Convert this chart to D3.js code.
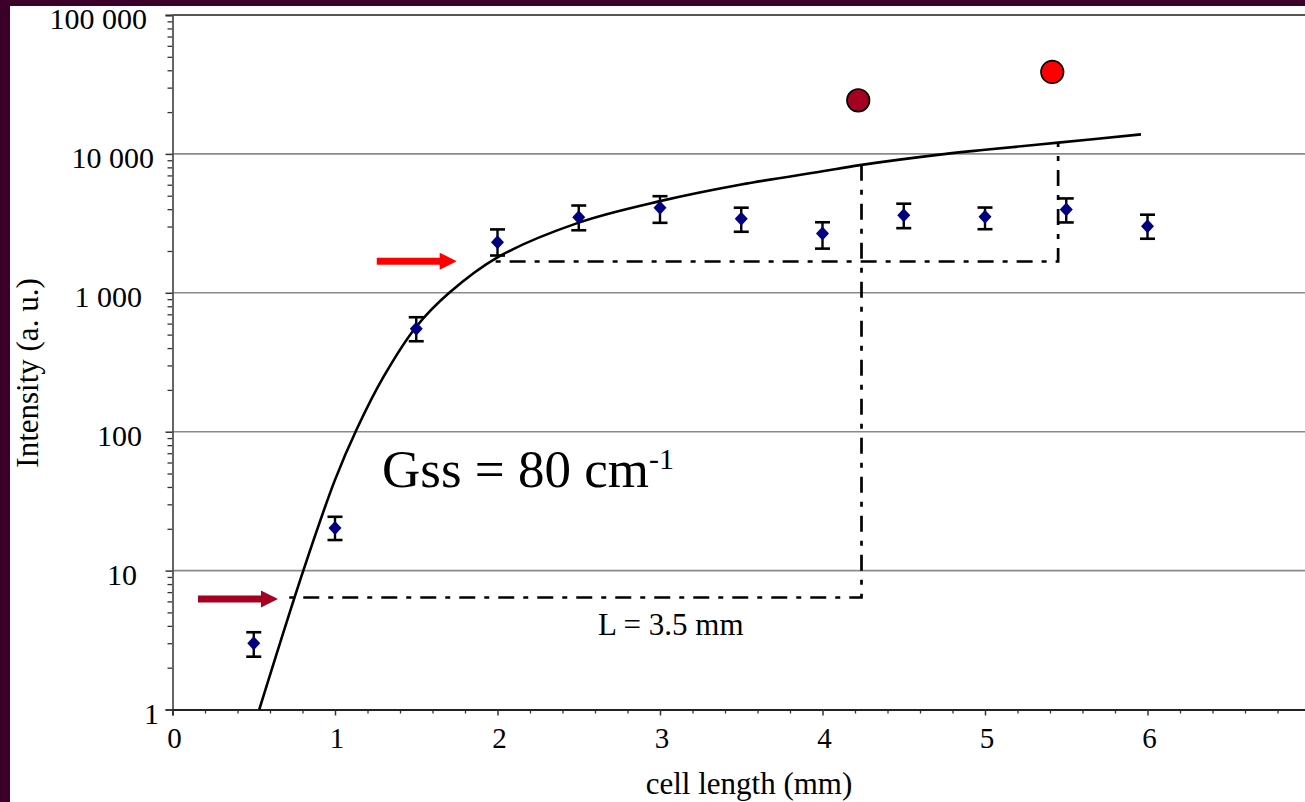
<!DOCTYPE html>
<html>
<head>
<meta charset="utf-8">
<script src="https://cdn.jsdelivr.net/npm/d3@7"></script>
<style>
  html, body { margin: 0; padding: 0; background: #3a0029; }
  svg { display: block; }
  text { font-family: "Liberation Serif", "Times New Roman", serif; fill: #000; }
</style>
</head>
<body>
<div id="chart"></div>
<script>
// measured points (cell length in mm, intensity in a.u.)
var cellLength = [0.5, 1, 1.5, 2, 2.5, 3, 3.5, 4, 4.5, 5, 5.5, 6];
var intensity  = [3.0, 20.3, 550, 2310, 3500, 4100, 3410, 2670, 3620, 3530, 3980, 3020];
var errHigh    = [3.6, 24.4, 667, 2860, 4250, 4960, 4100, 3220, 4380, 4110, 4780, 3650];
var errLow     = [2.4, 16.6, 448, 1855, 2820, 3190, 2750, 2080, 2920, 2870, 3210, 2450];

// fitted gain curve
var fitLength    = [0.534, 0.805, 1.0, 1.135, 1.3, 1.5, 1.703, 2.0, 2.5, 3.0, 3.5, 4.0, 4.23, 4.76, 5.0, 5.45, 5.96];
var fitIntensity = [1, 10, 45, 105, 250, 570, 1000, 1800, 3200, 4570, 6020, 7500, 8300, 10000, 10700, 12050, 13830];

// the two big markers
var markerLength    = [4.22, 5.414];
var markerIntensity = [24300, 38900];
var markerColor     = ["#a30022", "#ff0000"];

// dashed guides: start length, level, end length, top of the vertical
var guideStart = [0.70, 1.97];
var guideLevel = [6.4, 1680];
var guideEnd   = [4.24, 5.45];
var guideTop   = [8300, 12100];

// arrows pointing at the guide levels
var arrowFrom  = [0.157, 1.257];
var arrowTo    = [0.649, 1.749];
var arrowLevel = [6.25, 1690];
var arrowColor = ["#a30022", "#ff0000"];

var xTicks = [0, 1, 2, 3, 4, 5, 6, 7];
var yTicks = [1, 10, 100, 1000, 10000, 100000];
var yTickLabels = ["1", "10", "100", "1 000", "10 000", "100 000"];

var width = 1305, height = 802;
var plotLeft = 172.5, plotTop = 15, plotBottom = 709.5;

var svg = d3.select("#chart").append("svg")
   .attr("width", width).attr("height", height);

// dark frame + white page
svg.append("rect").attr("width", width).attr("height", height).attr("fill", "#3a0029");
svg.append("rect").attr("x", 10).attr("y", 6).attr("width", width - 10).attr("height", height - 6).attr("fill", "#fff");

var x = d3.scaleLinear().domain([0, 7]).range([plotLeft, plotLeft + 7 * 162.5]);
var y = d3.scaleLog().domain([1, 100000]).range([plotBottom, plotTop]);

// horizontal grid at every decade
svg.append("g").selectAll("line").data(yTicks.slice(1)).enter().append("line")
   .attr("x1", plotLeft).attr("x2", width)
   .attr("y1", function(d){ return y(d); }).attr("y2", function(d){ return y(d); })
   .attr("stroke", function(d){ return d == 100000 ? "#555" : "#8a8a8a"; })
   .attr("stroke-width", function(d){ return d == 100000 ? 2.2 : 1.6; });

// minor ticks
var yMinor = [];
yTicks.slice(0, -1).forEach(function(t){ for (var k = 2; k < 10; k++) yMinor.push(t * k); });
svg.append("g").attr("transform", "translate(" + plotLeft + ",0)")
   .call(d3.axisLeft(y).tickValues(yMinor).tickSize(5).tickFormat(""))
   .call(function(g){ g.select(".domain").remove(); g.selectAll("line").attr("stroke", "#333").attr("stroke-width", 1.3); });
var xMinor = d3.range(0, 35).map(function(i){ return i / 5; }).filter(function(v){ return Math.abs(v - Math.round(v)) > 1e-6; });
svg.append("g").attr("transform", "translate(0," + plotBottom + ")")
   .call(d3.axisBottom(x).tickValues(xMinor).tickSize(4).tickFormat(""))
   .call(function(g){ g.select(".domain").remove(); g.selectAll("line").attr("stroke", "#333").attr("stroke-width", 1.3); });

// major ticks + labels
var yLabelRight = [159, 137, 142, 142, 154, 147];
var yAxis = svg.append("g").attr("transform", "translate(" + plotLeft + ",0)")
   .call(d3.axisLeft(y).tickValues(yTicks).tickSize(7).tickFormat(function(d, i){ return yTickLabels[i]; }));
yAxis.select(".domain").attr("stroke", "#555").attr("stroke-width", 1.8);
yAxis.selectAll("line").attr("stroke", "#333").attr("stroke-width", 1.5);
yAxis.selectAll("text")
   .attr("x", function(d, i){ return yLabelRight[i] - plotLeft; })
   .attr("dy", "0.45em")
   .style("font-family", "'Liberation Serif', serif").style("font-size", "30px").attr("fill", "#000");

var xAxis = svg.append("g").attr("transform", "translate(0," + plotBottom + ")")
   .call(d3.axisBottom(x).tickValues(xTicks).tickSize(6).tickFormat(d3.format("d")));
xAxis.select(".domain").attr("stroke", "#222").attr("stroke-width", 1.8);
xAxis.selectAll("line").attr("stroke", "#333").attr("stroke-width", 1.5);
xAxis.selectAll("text")
   .attr("y", 0).attr("dy", "38.5px").attr("dx", "1.5px")
   .style("font-family", "'Liberation Serif', serif").style("font-size", "29px").attr("fill", "#000");

// axis titles
svg.append("text")
   .attr("x", 749).attr("y", 794)
   .attr("text-anchor", "middle")
   .style("font-size", "31px")
   .text("cell length (mm)");
svg.append("text")
   .attr("transform", "translate(38,373) rotate(-90)")
   .attr("text-anchor", "middle")
   .style("font-size", "31px")
   .text("Intensity (a. u.)");

// dashed guide lines
var dash = "16,9,5,9";
guideStart.forEach(function(s, i){
   svg.append("path")
      .attr("d", "M" + x(s) + "," + y(guideLevel[i]) + "H" + x(guideEnd[i]) + "V" + y(guideTop[i]))
      .attr("fill", "none").attr("stroke", "#000").attr("stroke-width", 2.7)
      .attr("stroke-dasharray", dash).attr("stroke-dashoffset", 22);
});

// arrows
arrowFrom.forEach(function(s, i){
   var yy = y(arrowLevel[i]), x0 = x(s), x1 = x(arrowTo[i]);
   svg.append("path")
      .attr("d", "M" + x0 + "," + (yy - 3.5) + "H" + (x1 - 17) + "V" + (yy - 8.5) + "L" + x1 + "," + yy +
                 "L" + (x1 - 17) + "," + (yy + 8.5) + "V" + (yy + 3.5) + "H" + x0 + "Z")
      .attr("fill", arrowColor[i]);
});

// fitted curve
var fitLine = d3.line()
   .x(function(d){ return x(d[0]); })
   .y(function(d){ return y(d[1]); })
   .curve(d3.curveCatmullRom.alpha(0.5));
svg.append("path")
   .datum(fitLength.map(function(v, i){ return [v, fitIntensity[i]]; }))
   .attr("d", fitLine)
   .attr("fill", "none").attr("stroke", "#000").attr("stroke-width", 2.6);

// error bars
var pts = svg.append("g").selectAll("g").data(cellLength).enter().append("g");
pts.append("line")
   .attr("x1", function(d){ return x(d); }).attr("x2", function(d){ return x(d); })
   .attr("y1", function(d, i){ return y(errLow[i]); }).attr("y2", function(d, i){ return y(errHigh[i]); })
   .attr("stroke", "#000").attr("stroke-width", 2.4);
[errLow, errHigh].forEach(function(arr){
   pts.append("line")
      .attr("x1", function(d){ return x(d) - 7.5; }).attr("x2", function(d){ return x(d) + 7.5; })
      .attr("y1", function(d, i){ return y(arr[i]); }).attr("y2", function(d, i){ return y(arr[i]); })
      .attr("stroke", "#000").attr("stroke-width", 2.6);
});
// diamonds
pts.append("path")
   .attr("d", "M0,-7L6.5,0L0,7L-6.5,0Z")
   .attr("transform", function(d, i){ return "translate(" + x(d) + "," + y(intensity[i]) + ")"; })
   .attr("fill", "#000080");

// big circles
svg.append("g").selectAll("circle").data(markerLength).enter().append("circle")
   .attr("cx", function(d){ return x(d); })
   .attr("cy", function(d, i){ return y(markerIntensity[i]); })
   .attr("r", 11.3)
   .attr("fill", function(d, i){ return markerColor[i]; })
   .attr("stroke", "#000").attr("stroke-width", 1.6);

// annotations
var gss = svg.append("text")
   .attr("x", 382).attr("y", 487)
   .style("font-size", "53px");
gss.append("tspan").text("Gss = 80 cm");
gss.append("tspan").attr("dy", -18).style("font-size", "30px").text("-1");

svg.append("text")
   .attr("x", 598).attr("y", 635)
   .style("font-size", "31px")
   .text("L = 3.5 mm");
</script>
</body>
</html>
